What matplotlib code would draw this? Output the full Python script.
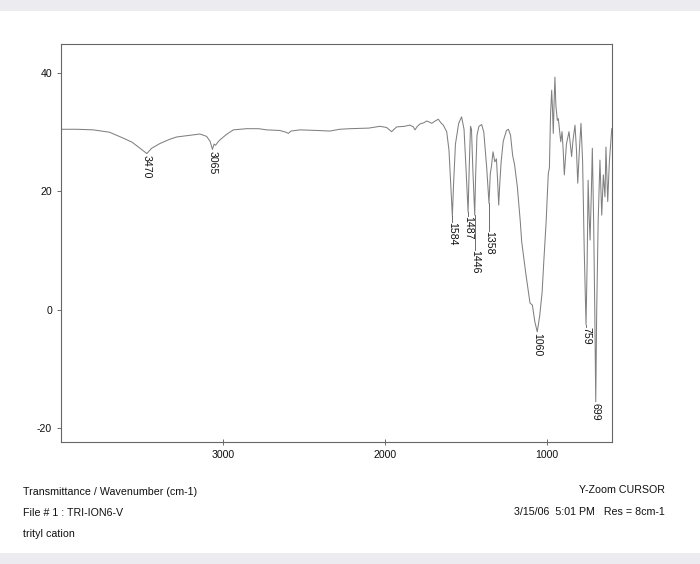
import matplotlib.pyplot as plt
from matplotlib.patches import Rectangle

# spectrum: wavenumber (cm-1) and transmittance
wavenumber = [3996, 3900, 3800, 3700, 3615, 3560, 3512, 3470, 3440, 3389,
              3330, 3286, 3200, 3142, 3101, 3080, 3065, 3055, 3046, 3032,
              3019, 2980, 2936, 2854, 2780, 2730, 2650, 2610, 2597, 2580,
              2525, 2420, 2340, 2280, 2216, 2100, 2031, 1990, 1959, 1940,
              1928, 1880, 1846, 1825, 1815, 1800, 1784, 1760, 1743, 1725,
              1712, 1690, 1671, 1655, 1640, 1619, 1605, 1594, 1584, 1577,
              1565, 1545, 1527, 1512, 1500, 1487, 1480, 1472, 1466, 1458,
              1446, 1440, 1432, 1420, 1403, 1390, 1372, 1358, 1350, 1343,
              1333, 1322, 1312, 1305, 1298, 1292, 1283, 1270, 1250, 1238,
              1225, 1212, 1200, 1183, 1165, 1156, 1130, 1105, 1098, 1090,
              1075, 1060, 1045, 1030, 1020, 1005, 992, 985, 978, 971,
              966, 961, 955, 951, 945, 936, 930, 925, 915, 907,
              900, 893, 880, 864, 848, 840, 827, 818, 810, 800,
              790, 780, 770, 759, 752, 746, 740, 734, 726, 720,
              712, 705, 699, 693, 684, 673, 662, 652, 642, 636,
              625, 615, 600]
transmittance = [30.5, 30.5, 30.4, 30.0, 29.0, 28.3, 27.3, 26.4, 27.3, 28.1,
                 28.8, 29.2, 29.5, 29.7, 29.3, 28.5, 27.1, 28.0, 27.8, 28.3,
                 28.7, 29.6, 30.4, 30.6, 30.6, 30.4, 30.3, 30.0, 29.8, 30.2,
                 30.4, 30.3, 30.2, 30.5, 30.6, 30.7, 31.0, 30.8, 30.1, 30.6,
                 30.9, 31.0, 31.2, 30.9, 30.4, 31.0, 31.4, 31.6, 31.9, 31.7,
                 31.5, 31.9, 32.2, 31.6, 31.2, 30.1, 27.0, 21.0, 15.8, 21.0,
                 28.0, 31.5, 32.6, 30.5, 24.0, 16.5, 24.0, 31.0, 30.5, 24.0,
                 16.0, 23.0, 29.5, 31.0, 31.3, 30.0, 24.0, 18.0, 23.0, 24.2,
                 26.7, 25.0, 25.5, 22.0, 17.7, 21.0, 25.0, 28.5, 30.3, 30.5,
                 29.5, 26.1, 24.5, 20.8, 15.0, 11.5, 6.0, 1.2, 1.0, 0.8,
                 -2.0, -3.7, -1.0, 3.0, 8.0, 15.0, 23.0, 24.0, 33.0, 37.1,
                 34.0, 29.8, 36.0, 39.3, 34.5, 32.0, 32.3, 31.0, 28.4, 30.1,
                 27.0, 22.8, 28.0, 30.1, 25.9, 28.5, 31.2, 27.0, 21.4, 27.0,
                 31.5, 25.0, 10.0, -2.5, 8.0, 21.9, 16.0, 11.8, 20.0, 27.3,
                 15.0, 0.0, -15.5, 0.0, 15.0, 25.3, 16.0, 22.8, 19.1, 27.5,
                 18.3, 25.0, 30.6]

# labelled peaks
peaks = [3470, 3065, 1584, 1487, 1446, 1358, 1060, 759, 699]
peak_min = [26.4, 27.1, 15.8, 16.5, 16.0, 18.0, -3.7, -2.5, -15.5]
label_top = [26.2, 26.9, 14.8, 15.8, 10.1, 13.3, -3.9, -2.9, -15.7]

x_ticks = [3000, 2000, 1000]
y_ticks = [40, 20, 0, -20]

plt.rcParams['font.family'] = ['Liberation Sans', 'DejaVu Sans']
plt.rcParams['axes.unicode_minus'] = False

fig = plt.figure(figsize=(7, 5.64), dpi=100)

# photographed page: grey strips at top and bottom
fig.patches.append(Rectangle((0, 1 - 11 / 564), 1, 11 / 564, transform=fig.transFigure,
                             facecolor='#ebebf0', edgecolor='none', zorder=0))
fig.patches.append(Rectangle((0, 0), 1, 11 / 564, transform=fig.transFigure,
                             facecolor='#ebebf0', edgecolor='none', zorder=0))

ax = fig.add_axes([0.0871, 0.2163, 0.7871, 0.7057])
ax.plot(wavenumber, transmittance, color='#808080', lw=0.75)

for wn, lo, top in zip(peaks, peak_min, label_top):
    if top < lo - 0.3:
        ax.plot([wn, wn], [lo, top], color='#555555', lw=0.6)
    ax.text(wn, top, str(wn), rotation=-90, ha='center', va='top', fontsize=7.6,
            color='#111111')

ax.set_xlim(4000, 599)
ax.set_ylim(-22.3, 44.9)
ax.set_xticks(x_ticks)
ax.set_yticks(y_ticks)
ax.tick_params(axis='both', labelsize=7.6, colors='#555555', labelcolor='#111111',
               length=3, width=0.6)
ax.tick_params(axis='x', direction='inout', length=4)
for s in ax.spines.values():
    s.set_color('#666666')
    s.set_linewidth(0.8)

txt = dict(fontsize=7.7, va='center', color='#111111')
fig.text(23 / 700, 1 - 492 / 564, 'Transmittance / Wavenumber (cm-1)', **txt)
fig.text(23 / 700, 1 - 513 / 564, 'File # 1 : TRI-ION6-V', **txt)
fig.text(23 / 700, 1 - 534 / 564, 'trityl cation', **txt)
fig.text(665 / 700, 1 - 490 / 564, 'Y-Zoom CURSOR', ha='right', **txt)
fig.text(665 / 700, 1 - 512 / 564, '3/15/06  5:01 PM   Res = 8cm-1', ha='right', **txt)

fig.savefig('out.png', dpi=100)
